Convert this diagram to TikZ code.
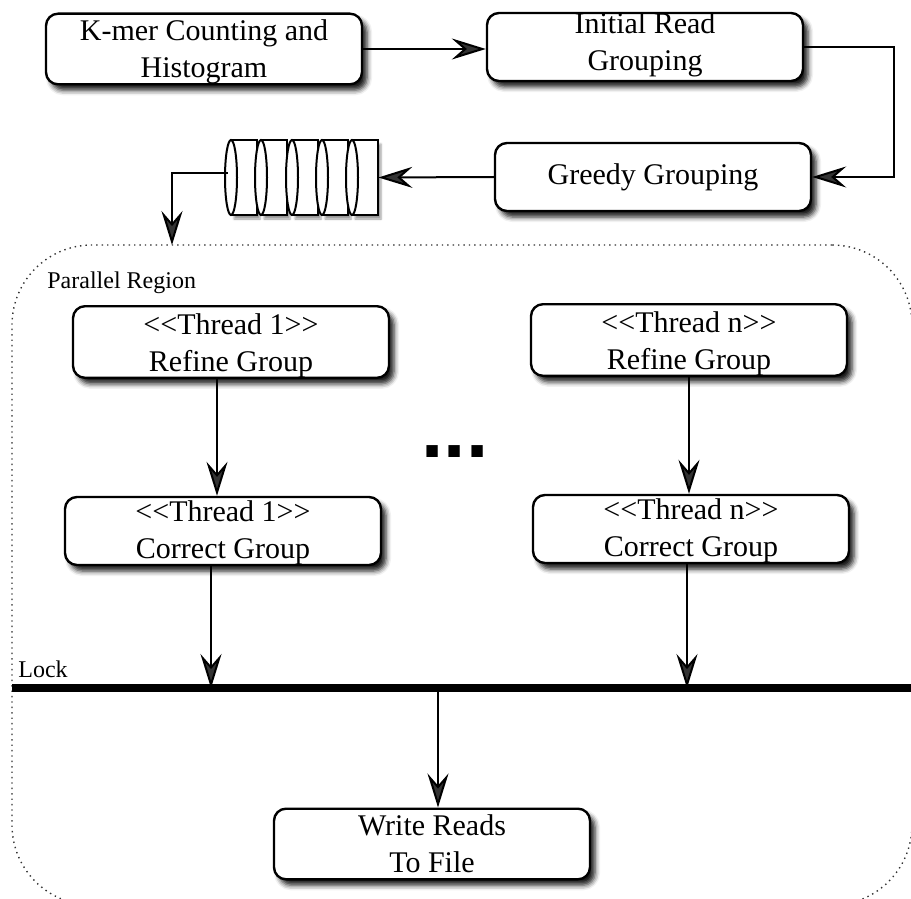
\documentclass[tikz,border=0pt]{standalone}
\usepackage{fontspec}
\setmainfont{Liberation Serif}
\setsansfont{Liberation Sans}
\usepackage{tikz}
\usetikzlibrary{positioning, shapes, arrows.meta, calc, shadows, shadows.blur}
\tikzset{pipeline/.style={
    x=0.5pt, y=-0.5pt,
    box/.style={rectangle, draw=black, line width=1.2pt, rounded corners=6pt, fill=white, minimum width=158pt, minimum height=34pt, inner sep=0pt, align=center, text height=32pt, text depth=3.3pt, font=\fontsize{15}{18.5}\selectfont, blur shadow={shadow xshift=2.5pt, shadow yshift=-3pt, shadow blur radius=2.5pt, shadow opacity=90}},
    region/.style={rectangle, draw=black!80, dotted, line width=0.7pt, rounded corners=40pt, minimum width=450pt, minimum height=330pt},
    tag/.style={anchor=base west, inner sep=0pt, font=\fontsize{12}{14}\selectfont},
    flow/.style={line width=1pt, -{Stealth[length=17pt, width=10.5pt, inset=6pt]}},
    lockbar/.style={line width=4pt},
}}

\begin{document}
\begin{tikzpicture}[pipeline]
    \useasboundingbox (0,0) rectangle (911,899);
    \node[region] (region) at (462,575) {};
    \coordinate (regin) at (172,245);
    \node[tag] (partitle) at (47,288) {Parallel Region};

    \node[box] (kmer) at (204,49) {K-mer Counting and\\Histogram};
    \node[box, text height=27pt] (init) at (645,47) {Initial Read\\Grouping};
    \node[box, text height=10.5pt] (greedy) at (653,177) {Greedy Grouping};

    \node[inner sep=0pt, minimum width=76pt, minimum height=37.5pt] (queue) at (302,177.5) {};
    \foreach \cx in {231,261,292,322,352} {
        \filldraw[fill=white, line width=1pt, blur shadow={shadow xshift=1.5pt, shadow yshift=-2pt, shadow blur radius=1pt}] (\cx,140) rectangle (\cx+26,215);
        \filldraw[fill=white, line width=1pt] (\cx,177.5) ellipse [x radius=3pt, y radius=18.75pt];
    }

    \node[box, text height=32.5pt] (refine1) at (231,342) {<{}<Thread 1>{}>\\Refine Group};
    \node[box, text height=32.5pt] (refinen) at (689,340) {<{}<Thread n>{}>\\Refine Group};
    \node[box, text height=30.5pt] (correct1) at (223,531) {<{}<Thread 1>{}>\\Correct Group};
    \node[box, text height=30.5pt] (correctn) at (691,529) {<{}<Thread n>{}>\\Correct Group};
    \node[font=\fontsize{40}{40}\selectfont\sffamily\bfseries, inner sep=0pt] (dots) at (455,452) {...};

    \coordinate (lockL) at (12,688);
    \coordinate (lockR) at (911,688);
    \draw[lockbar] (lockL) -- (lockR);
    \node[tag] (locktitle) at (18,677) {Lock};

    \node[box] (write) at (432,844) {Write Reads\\To File};

    \draw[flow] (kmer.east) -- (kmer.east -| init.west);
    \draw[flow] (init.east) -- ++(45pt,0) |- (greedy.east);
    \draw[flow] (greedy.west) -- (queue.east);
    \draw[flow] ([xshift=1pt,yshift=2pt]queue.west) -| (regin);
    \draw[flow] ([xshift=-7pt]refine1.south) -- ([xshift=-7pt]refine1.south |- correct1.north);
    \draw[flow] (refinen.south) -- (refinen.south |- correctn.north);
    \draw[flow] ([xshift=-6pt]correct1.south) -- ([xshift=-6pt]correct1.south |- lockL);
    \draw[flow] ([xshift=-2pt]correctn.south) -- ([xshift=-2pt]correctn.south |- lockL);
    \draw[flow] ([xshift=3pt]write.north |- lockL) -- ([xshift=3pt]write.north);
\end{tikzpicture}
\end{document}
